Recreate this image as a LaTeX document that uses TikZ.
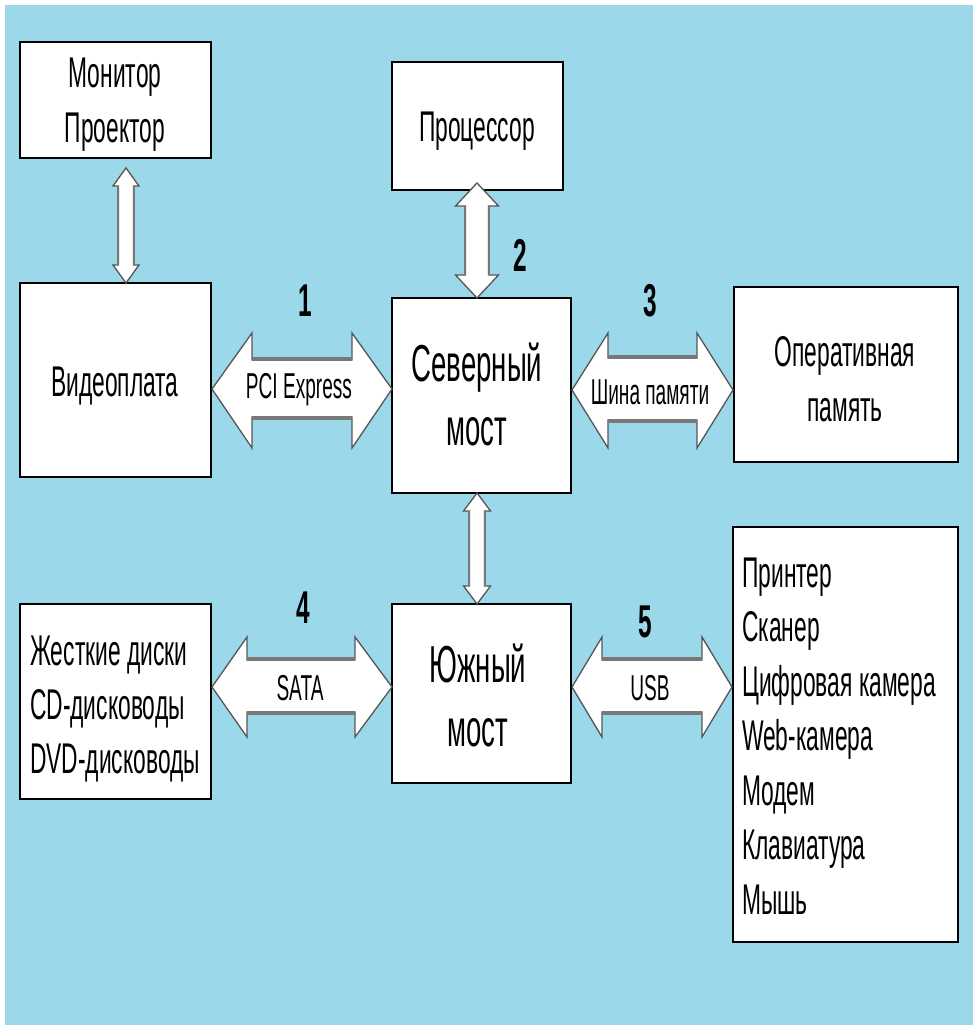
\documentclass[tikz,border=0pt]{standalone}
\usepackage{fontspec}
\setmainfont{Liberation Sans}[FakeStretch=0.53]
\definecolor{bg}{RGB}{155,216,233}
\definecolor{edge}{RGB}{85,85,85}
\definecolor{shade}{RGB}{120,120,120}
\tikzset{
  box/.style={draw=black, line width=2pt, fill=white, rectangle, inner sep=0pt},
  boxtext/.style={inner sep=0pt, align=center, font=\fontsize{43}{55}\selectfont},
  bridge/.style={font=\fontsize{52}{64}\selectfont, align=center, inner sep=0pt},
  listline/.style={anchor=base west, inner sep=0pt, font=\fontsize{43}{55}\selectfont},
  buslabel/.style={inner sep=0pt, font=\fontsize{36}{40}\selectfont},
  num/.style={inner sep=0pt, font=\fontsize{46}{46}\selectfont\bfseries},
  arrline/.style={draw=edge, fill=white, line width=1.3pt, line join=miter},
  shaftshade/.style={draw=shade, line width=4pt},
}
% horizontal double arrow: xL, baseL, baseR, xR, headTop, shaftTop, shaftBot, headBot, cy
\newcommand{\harr}[9]{%
  \draw[arrline] (#1,#9) -- (#2,#5) -- (#2,#6) -- (#3,#6) -- (#3,#5) -- (#4,#9)
    -- (#3,#8) -- (#3,#7) -- (#2,#7) -- (#2,#8) -- cycle;
  \draw[shaftshade] (#2,#6-1) -- (#3,#6-1);
  \draw[shaftshade] (#2,#7+1) -- (#3,#7+1);
}
% vertical double arrow: cx, top, bottom, headlen, headhalf, shafthalf
\newcommand{\varr}[6]{%
  \draw[arrline] (#1,#2) -- (#1+#5,#2+#4) -- (#1+#6,#2+#4) -- (#1+#6,#3-#4) -- (#1+#5,#3-#4)
    -- (#1,#3) -- (#1-#5,#3-#4) -- (#1-#6,#3-#4) -- (#1-#6,#2+#4) -- (#1-#5,#2+#4) -- cycle;
  \draw[draw=shade, line width=2.5pt] (#1+#6+0.5,#2+#4) -- (#1+#6+0.5,#3-#4);
  \draw[draw=shade, line width=2.5pt] (#1-#6-0.5,#2+#4) -- (#1-#6-0.5,#3-#4);
}
\begin{document}
\begin{tikzpicture}[x=1pt, y=-1pt]
\useasboundingbox (0,0) rectangle (973,1025);
\fill[white] (0,0) rectangle (973,1025);
\fill[bg] (5,5) rectangle (973,1025);

% boxes
\node[box, minimum width=191pt, minimum height=116pt] (mon) at (115.5,100) {};
\node[boxtext] (monT) at (115,105) {Монитор\\Проектор};
\node[box, minimum width=171pt, minimum height=128pt] (cpu) at (477.5,126) {};
\node[boxtext] (cpuT) at (477,131) {Процессор};
\node[box, minimum width=191pt, minimum height=194pt] (vid) at (115.5,380) {};
\node[boxtext] (vidT) at (115,386) {Видеоплата};
\node[box, minimum width=179pt, minimum height=195pt] (nb) at (481.5,395.5) {};
\node[bridge] (nbT) at (477,394) {Северный\\мост};
\node[box, minimum width=224pt, minimum height=175pt] (ram) at (846,374.5) {};
\node[boxtext] (ramT) at (845,379) {Оперативная\\память};
\node[box, minimum width=191pt, minimum height=195pt] (hdd) at (115.5,701.5) {};
\node[box, minimum width=179pt, minimum height=179pt] (sb) at (481.5,693.5) {};
\node[bridge] (sbT) at (478,695) {Южный\\мост};
\node[box, minimum width=225pt, minimum height=415pt] (per) at (845.5,734.5) {};

% list texts
\node[listline] (h1) at (30,665) {Жесткие диски};
\node[listline] (h2) at (30,719) {CD-дисководы};
\node[listline] (h3) at (30,773) {DVD-дисководы};

\node[listline] (p1) at (742,587) {Принтер};
\node[listline] (p2) at (742,641.5) {Сканер};
\node[listline] (p3) at (742,696) {Цифровая камера};
\node[listline] (p4) at (742,750.5) {Web-камера};
\node[listline] (p5) at (742,805) {Модем};
\node[listline] (p6) at (742,859.5) {Клавиатура};
\node[listline] (p7) at (742,914) {Мышь};

% vertical arrows
\varr{126}{168}{283}{18}{13}{7.5}
\varr{477}{183}{298}{23}{21.5}{11.5}
\varr{477}{493}{604}{18}{13.5}{7.5}

% horizontal arrows
\harr{212}{252}{352}{392}{333}{360}{417}{448}{389}
\harr{572}{608}{697}{733}{333}{358}{420}{448}{390}
\harr{212}{247}{355}{392}{637}{660}{712}{737}{687}
\harr{572}{602}{702}{732}{637}{660}{712}{737}{687}

% bus labels
\node[buslabel] (l1) at (299,390) {PCI Express};
\node[buslabel] (l2) at (650,392) {Шина памяти};
\node[buslabel] (l3) at (300,688) {SATA};
\node[buslabel] (l4) at (650,688) {USB};

% numbers
\node[num] (n1) at (305,301) {1};
\node[num] (n2) at (520,255) {2};
\node[num] (n3) at (650,301) {3};
\node[num] (n4) at (303,608) {4};
\node[num] (n5) at (645,622) {5};
\end{tikzpicture}
\end{document}
